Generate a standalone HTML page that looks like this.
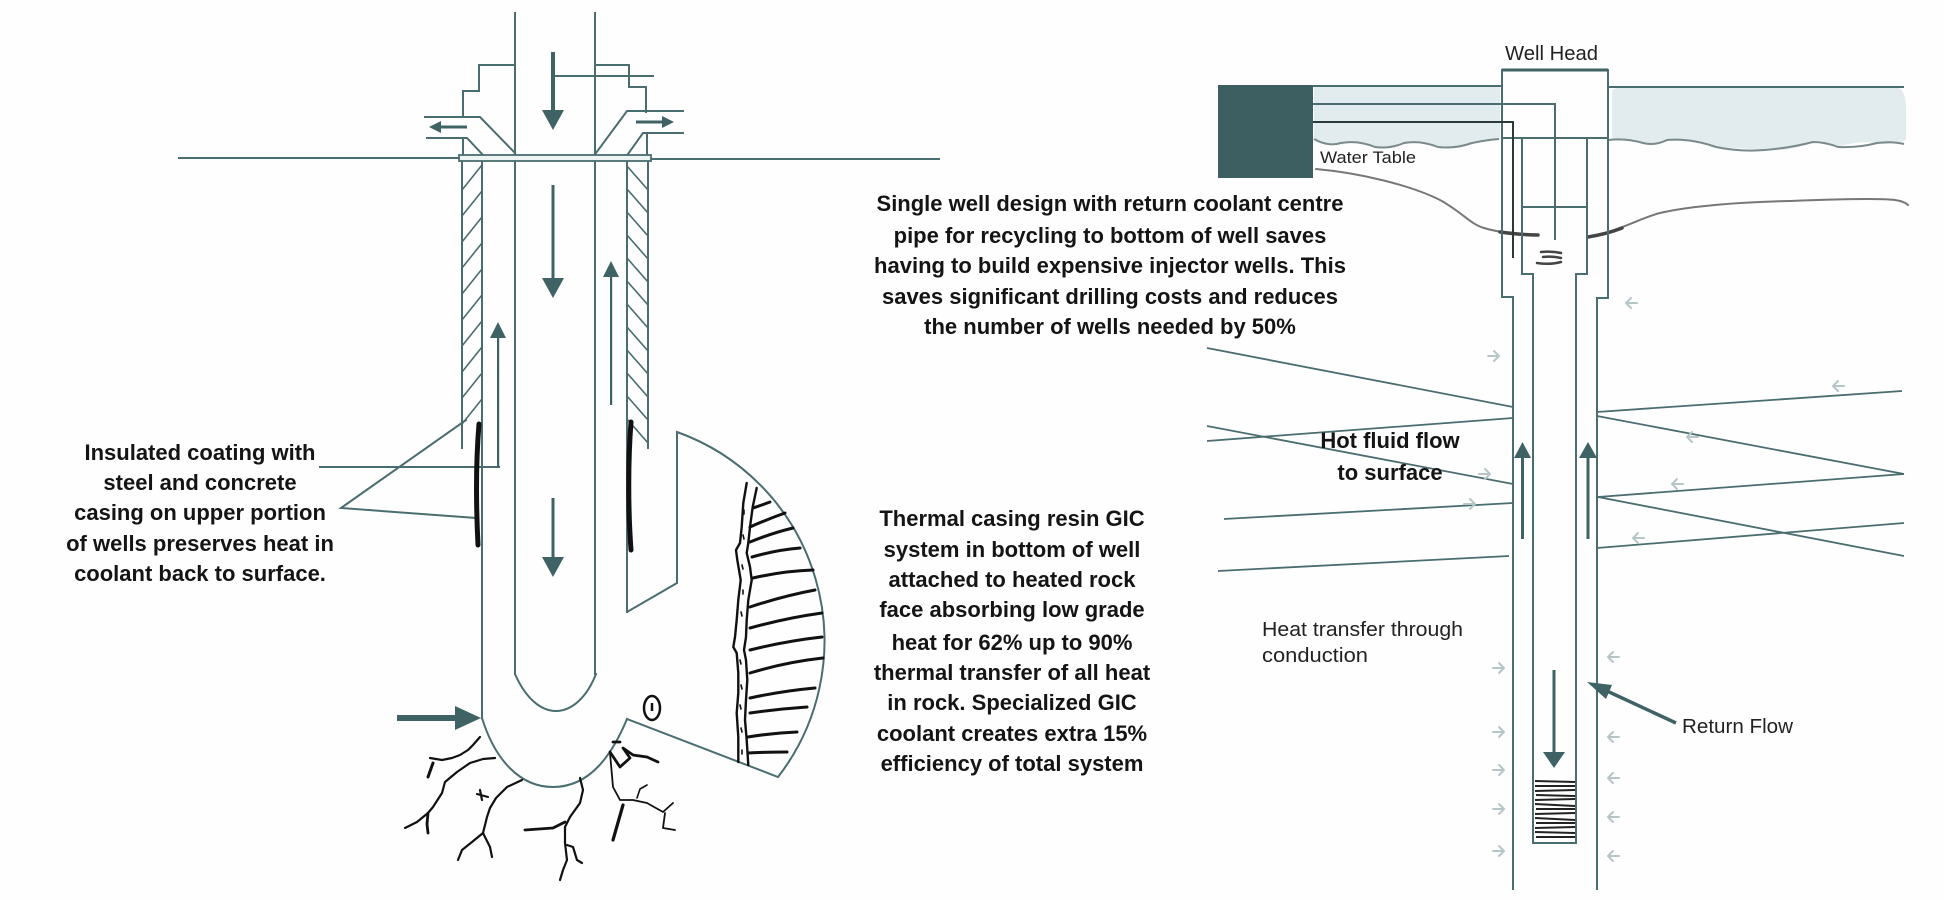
<!DOCTYPE html>
<html>
<head>
<meta charset="utf-8">
<style>
  html,body{margin:0;padding:0;background:#fefefe;}
  svg{display:block;}
  .b{font-family:"Liberation Sans",Arial,sans-serif;font-weight:bold;font-size:22px;fill:#141414;}
  .r{font-family:"Liberation Sans",Arial,sans-serif;font-weight:normal;fill:#222;}
</style>
</head>
<body>
<svg width="1944" height="900" viewBox="0 0 1944 900" xmlns="http://www.w3.org/2000/svg">
<rect width="1944" height="900" fill="#fefefe"/>

<!-- ================= LEFT DIAGRAM ================= -->
<g stroke="#4a6d70" stroke-width="2" fill="none" stroke-linecap="square">
  <line x1="179" y1="158" x2="459" y2="158"/>
  <line x1="651" y1="159" x2="939" y2="159"/>
  <line x1="515" y1="13" x2="515" y2="674"/>
  <line x1="595" y1="13" x2="595" y2="674"/>
  <path d="M515,674 C525,697 540,711 556,711 C572,711 587,697 596,674"/>
  <polyline points="515,65 479,65 479,91 463,91 463,117"/>
  <polyline points="425,117 480,117 515,153"/>
  <polyline points="427,138 467,138 482,154"/>
  <line x1="463" y1="138" x2="463" y2="155"/>
  <polyline points="595,65 629,65 629,87 646,87 646,112"/>
  <polyline points="683,111 627,111 596,153"/>
  <polyline points="683,133 643,133 628,154"/>
  <line x1="647" y1="134" x2="647" y2="155"/>
  <line x1="554" y1="76" x2="653" y2="76"/>
  <line x1="462" y1="161" x2="462" y2="448"/>
  <line x1="482" y1="161" x2="482" y2="718"/>
  <line x1="627" y1="161" x2="627" y2="612"/>
  <line x1="648" y1="161" x2="648" y2="448"/>
  <path d="M482,718 C495,760 520,787 553,787 C590,787 612,755 627,719"/>
  <path d="M627,612 L677,583 L677,432 A222,222 0 0 1 778,777 L627,719"/>
  <polyline points="320,467 499,467"/>
  <polyline points="466,420 341,508 477,518"/>
</g>
<rect x="459" y="155" width="192" height="6" fill="#eef3f3" stroke="#4a6d70" stroke-width="1.8"/>

<g stroke="#4a6d70" stroke-width="1.6">
  <line x1="462" y1="190" x2="482" y2="165"/>
  <line x1="462" y1="216" x2="482" y2="191"/>
  <line x1="462" y1="242" x2="482" y2="217"/>
  <line x1="462" y1="268" x2="482" y2="243"/>
  <line x1="462" y1="294" x2="482" y2="269"/>
  <line x1="462" y1="320" x2="482" y2="295"/>
  <line x1="462" y1="346" x2="482" y2="321"/>
  <line x1="462" y1="372" x2="482" y2="347"/>
  <line x1="462" y1="398" x2="482" y2="373"/>
  <line x1="462" y1="424" x2="482" y2="399"/>
  <line x1="627" y1="166" x2="648" y2="190"/>
  <line x1="627" y1="189" x2="648" y2="213"/>
  <line x1="627" y1="212" x2="648" y2="236"/>
  <line x1="627" y1="235" x2="648" y2="259"/>
  <line x1="627" y1="258" x2="648" y2="282"/>
  <line x1="627" y1="281" x2="648" y2="305"/>
  <line x1="627" y1="304" x2="648" y2="328"/>
  <line x1="627" y1="327" x2="648" y2="351"/>
  <line x1="627" y1="350" x2="648" y2="374"/>
  <line x1="627" y1="373" x2="648" y2="397"/>
  <line x1="627" y1="396" x2="648" y2="420"/>
  <line x1="627" y1="419" x2="648" y2="443"/>
</g>

<g fill="#3f6265" stroke="none">
  <rect x="551" y="52" width="4" height="60"/>
  <polygon points="542,110 564,110 553,130"/>
  <rect x="551.5" y="185" width="3" height="95"/>
  <polygon points="542,278 564,278 553,298"/>
  <rect x="551.5" y="498" width="3" height="61"/>
  <polygon points="542,557 564,557 553,577"/>
  <rect x="440" y="125.5" width="27" height="3"/>
  <polygon points="441,121 441,133 429,127"/>
  <rect x="636" y="120.5" width="27" height="3"/>
  <polygon points="662,116 662,128 674,122"/>
  <rect x="497" y="336" width="2.2" height="131"/>
  <polygon points="490,338 506,338 498,322"/>
  <rect x="610" y="275" width="2.2" height="130"/>
  <polygon points="603,277 619,277 611,261"/>
  <rect x="397" y="715" width="60" height="6"/>
  <polygon points="455,706 481,718 455,730"/>
</g>

<g stroke="#111" fill="none" stroke-linecap="round">
  <path d="M479,424 C476,460 476,505 478,545" stroke-width="5"/>
  <path d="M631,422 C628,460 628,510 631,550" stroke-width="5"/>
</g>

<ellipse cx="652" cy="708" rx="8" ry="12" fill="none" stroke="#111" stroke-width="2.5"/>
<line x1="652" y1="703" x2="652" y2="711" stroke="#111" stroke-width="2.5"/>

<g stroke="#111" fill="none" stroke-linecap="round">
  <polyline stroke-width="2.4" points="746.7,483 743.3,503 741.7,527 740,543 736,550 737.3,560 740.7,580 738.3,600 736.7,620 735,637 733.3,647 736.7,653 738.3,673 738.3,693 736.7,713 738.3,737 738.3,762"/>
  <polyline stroke-width="2.4" points="756.7,488 752.7,507 750,527 748.3,543 746.7,553 750,567 751.7,580 748.3,600 746.7,620 746,637 744,650 746,660 747.3,680 746,700 745,720 746.7,740 748.3,765"/>
  <g stroke-width="3">
    <path d="M753,508 Q762,505 770,502"/>
    <path d="M750,527 Q768,519 785,513"/>
    <path d="M750,542 Q772,533 793,528"/>
    <path d="M752,557 Q776,550 800,548"/>
    <path d="M753,578 Q783,571 813,570"/>
    <path d="M750,607 Q783,596 815,590"/>
    <path d="M750,628 Q786,618 822,613"/>
    <path d="M750,650 Q786,641 822,637"/>
    <path d="M750,673 Q786,662 823,658"/>
    <path d="M750,698 Q782,691 815,688"/>
    <path d="M750,713 Q778,709 807,707"/>
    <path d="M748,737 Q772,733 797,732"/>
    <path d="M748,753 Q768,752 787,752"/>
  </g>
  <g stroke-width="1.6">
    <line x1="744" y1="510" x2="744" y2="514"/>
    <line x1="743" y1="535" x2="744" y2="539"/>
    <line x1="742" y1="565" x2="743" y2="569"/>
    <line x1="743" y1="590" x2="743" y2="594"/>
    <line x1="741" y1="612" x2="742" y2="616"/>
    <line x1="740" y1="660" x2="741" y2="664"/>
    <line x1="741" y1="685" x2="742" y2="689"/>
    <line x1="740" y1="705" x2="741" y2="709"/>
    <line x1="741" y1="728" x2="742" y2="732"/>
    <line x1="742" y1="750" x2="742" y2="754"/>
  </g>
</g>

<g stroke="#111" fill="none" stroke-linecap="round" stroke-linejoin="round" stroke-width="2.2">
  <path d="M430,758 L442,760 L452,758 L460,755 L468,750 L473,745 L480,737"/>
  <path d="M428,777 L433,763" stroke-width="3"/>
  <path d="M495,758 L483,759 L470,763 L457,772 L445,782 L442,793 L433,807 L428,813 L417,822 L405,828"/>
  <path d="M428,813 L427,824 L428,833" stroke-width="2.8"/>
  <path d="M522,780 L507,787 L496,798 L490,808 L487,817 L483,833 L472,842 L462,850 L458,860"/>
  <path d="M483,833 L490,847 L492,857"/>
  <path d="M477,794 L488,797 M480,790 L482,800"/>
  <path d="M580,778 L583,790 L580,803 L570,817 L565,827 L565,843 L567,860 L563,870 L560,880"/>
  <path d="M565,822 L553,828 L525,830" stroke-width="2.8"/>
  <path d="M567,845 L573,847 L577,860 L582,863"/>
  <path d="M613,742 L620,742 M610,752 L620,767 L630,758 L623,748 L633,755 L647,757 L658,762" stroke-width="2.8"/>
  <path d="M610,753 L613,787 L620,800 L633,800 L647,803 L663,812 L673,803 M665,813 L663,828 L675,830" stroke-width="1.8"/>
  <path d="M637,798 L640,789 L647,785" stroke-width="1.6"/>
  <path d="M623,805 L613,840" stroke-width="3.2"/>
</g>

<g class="b" text-anchor="middle">
  <text x="200" y="460">Insulated coating with</text>
  <text x="200" y="490">steel and concrete</text>
  <text x="200" y="520">casing on upper portion</text>
  <text x="200" y="551">of wells preserves heat in</text>
  <text x="200" y="581">coolant back to surface.</text>
</g>

<g class="b" text-anchor="middle">
  <text x="1012" y="526">Thermal casing resin GIC</text>
  <text x="1012" y="557">system in bottom of well</text>
  <text x="1012" y="587">attached to heated rock</text>
  <text x="1012" y="617">face absorbing low grade</text>
  <text x="1012" y="650">heat for 62% up to 90%</text>
  <text x="1012" y="680">thermal transfer of all heat</text>
  <text x="1012" y="710">in rock. Specialized GIC</text>
  <text x="1012" y="741">coolant creates extra 15%</text>
  <text x="1012" y="771">efficiency of total system</text>
</g>

<!-- ================= RIGHT DIAGRAM ================= -->
<path d="M1314,87 L1500,87 L1500,139 Q1486,141 1472,143 Q1455,149 1438,147 Q1420,140 1404,143 Q1390,149 1375,147 Q1358,140 1341,143 Q1328,146 1314,138 Z" fill="#e2ebed"/>
<path d="M1612,92 Q1612,88 1620,88 L1898,88 Q1906,90 1906,110 L1906,140 Q1890,146 1877,143 Q1858,140 1838,147 Q1825,143 1813,142 Q1790,152 1765,150 Q1740,148 1716,147 Q1690,138 1667,140 Q1655,146 1643,143 Q1625,138 1612,140 Z" fill="#e2ebed"/>

<g stroke="#7a8a8c" stroke-width="2" fill="none">
  <path d="M1314,139 Q1328,147 1341,143 Q1358,140 1375,147 Q1390,149 1404,143 Q1420,140 1438,147 Q1455,149 1472,143 Q1486,140 1499,139"/>
  <path d="M1609,140 Q1625,138 1643,143 Q1655,146 1667,140 Q1690,138 1716,147 Q1740,152 1765,150 Q1790,148 1813,142 Q1825,142 1838,147 Q1858,148 1877,143 Q1892,141 1904,144"/>
</g>

<g stroke="#777" fill="none" stroke-linecap="round">
  <path d="M1316,169 C1360,173 1410,185 1440,200 C1462,212 1470,224 1484,228 C1500,233 1520,234 1538,235" stroke-width="2"/>
  <path d="M1500,232 C1515,234 1528,235 1538,235" stroke="#444" stroke-width="3.5"/>
  <path d="M1588,237 C1620,231 1640,218 1660,213 C1690,206 1740,202 1790,201 C1840,199 1880,198 1895,200 C1902,201 1906,203 1908,205" stroke-width="2"/>
  <path d="M1588,237 C1600,235 1612,232 1622,228" stroke="#444" stroke-width="3.5"/>
</g>

<g stroke="#4a6d70" stroke-width="2" fill="none">
  <line x1="1313" y1="86" x2="1502" y2="86"/>
  <line x1="1609" y1="87" x2="1904" y2="87"/>
  <rect x="1502" y="70" width="106" height="68"/>
  <polyline points="1313,104 1555,104 1555,240"/>
  <polyline points="1502,138 1502,297 1513,297 1513,890"/>
  <polyline points="1608,138 1608,298 1597,298 1597,890"/>
  <polyline points="1522,138 1522,274 1533,274 1533,843 1576,843 1576,274 1587,274 1587,138"/>
  <line x1="1523" y1="207" x2="1587" y2="207"/>
  <g stroke-width="1.8">
    <line x1="1207" y1="348" x2="1513" y2="407"/>
    <line x1="1207" y1="441" x2="1513" y2="418"/>
    <line x1="1207" y1="426" x2="1513" y2="484"/>
    <line x1="1224" y1="519" x2="1513" y2="503"/>
    <line x1="1218" y1="571" x2="1509" y2="556"/>
    <line x1="1597" y1="412" x2="1902" y2="391"/>
    <line x1="1597" y1="416" x2="1904" y2="474"/>
    <line x1="1904" y1="474" x2="1598" y2="497"/>
    <line x1="1598" y1="497" x2="1904" y2="556"/>
    <line x1="1597" y1="548" x2="1904" y2="523"/>
  </g>
</g>
<line x1="1502" y1="70" x2="1608" y2="70" stroke="#3f6265" stroke-width="3"/>
<polyline points="1313,122 1513,122 1513,258" stroke="#2a3a3b" stroke-width="2" fill="none"/>

<rect x="1218" y="85" width="95" height="93" fill="#3e5f62"/>

<g stroke="#444" stroke-width="2.5" fill="none" stroke-linecap="round">
  <path d="M1541,252 Q1552,251 1561,253"/>
  <path d="M1543,257 Q1553,256 1561,258"/>
  <path d="M1537,263 Q1550,265 1561,262"/>
</g>

<g stroke="#222" stroke-width="2">
  <line x1="1535" y1="781" x2="1575" y2="782"/>
  <line x1="1535" y1="786" x2="1575" y2="786"/>
  <line x1="1535" y1="791" x2="1575" y2="790"/>
  <line x1="1536" y1="795" x2="1575" y2="796"/>
  <line x1="1535" y1="800" x2="1575" y2="799"/>
  <line x1="1535" y1="804" x2="1575" y2="806"/>
  <line x1="1536" y1="809" x2="1575" y2="809"/>
  <line x1="1535" y1="814" x2="1575" y2="813"/>
  <line x1="1535" y1="818" x2="1575" y2="820"/>
  <line x1="1536" y1="823" x2="1575" y2="823"/>
  <line x1="1535" y1="828" x2="1575" y2="827"/>
  <line x1="1535" y1="832" x2="1575" y2="833"/>
  <line x1="1536" y1="837" x2="1575" y2="837"/>
</g>

<g fill="#3f6265">
  <rect x="1521" y="456" width="3" height="83"/>
  <polygon points="1514,458 1531,458 1522.5,442"/>
  <rect x="1586.5" y="456" width="3" height="83"/>
  <polygon points="1579,458 1597,458 1588,442"/>
  <rect x="1552.5" y="670" width="3" height="84"/>
  <polygon points="1543,752 1565,752 1554,768"/>
  <polygon points="1587,682 1612,685 1606,699"/>
</g>
<line x1="1676" y1="723" x2="1607" y2="691" stroke="#3f6265" stroke-width="3.5"/>

<g stroke="#b6c6c7" stroke-width="2" fill="none" stroke-linecap="round" stroke-linejoin="round">
  <path d="M1488,356 L1499,356 M1494,351 L1499,356 L1494,361"/>
  <path d="M1479,474 L1490,474 M1485,469 L1490,474 L1485,479"/>
  <path d="M1464,504 L1475,504 M1470,499 L1475,504 L1470,509"/>
  <path d="M1493,668 L1504,668 M1499,663 L1504,668 L1499,673"/>
  <path d="M1493,732 L1504,732 M1499,727 L1504,732 L1499,737"/>
  <path d="M1493,770 L1504,770 M1499,765 L1504,770 L1499,775"/>
  <path d="M1493,809 L1504,809 M1499,804 L1504,809 L1499,814"/>
  <path d="M1493,851 L1504,851 M1499,846 L1504,851 L1499,856"/>
  <path d="M1637,303 L1626,303 M1631,298 L1626,303 L1631,308"/>
  <path d="M1844,386 L1833,386 M1838,381 L1833,386 L1838,391"/>
  <path d="M1698,437 L1687,437 M1692,432 L1687,437 L1692,442"/>
  <path d="M1683,484 L1672,484 M1677,479 L1672,484 L1677,489"/>
  <path d="M1644,538 L1633,538 M1638,533 L1633,538 L1638,543"/>
  <path d="M1619,657 L1608,657 M1613,652 L1608,657 L1613,662"/>
  <path d="M1619,737 L1608,737 M1613,732 L1608,737 L1613,742"/>
  <path d="M1619,778 L1608,778 M1613,773 L1608,778 L1613,783"/>
  <path d="M1619,817 L1608,817 M1613,812 L1608,817 L1613,822"/>
  <path d="M1619,856 L1608,856 M1613,851 L1608,856 L1613,861"/>
</g>

<text class="r" x="1505" y="60" font-size="20" textLength="93" lengthAdjust="spacingAndGlyphs">Well Head</text>
<text class="r" x="1320" y="163" font-size="17" textLength="96" lengthAdjust="spacingAndGlyphs">Water Table</text>
<text class="r" x="1262" y="636" font-size="20" textLength="201" lengthAdjust="spacingAndGlyphs">Heat transfer through</text>
<text class="r" x="1262" y="662" font-size="20" textLength="106" lengthAdjust="spacingAndGlyphs">conduction</text>
<text class="r" x="1682" y="733" font-size="20" textLength="111" lengthAdjust="spacingAndGlyphs">Return Flow</text>

<g class="b" text-anchor="middle">
  <text x="1110" y="211">Single well design with return coolant centre</text>
  <text x="1110" y="243">pipe for recycling to bottom of well saves</text>
  <text x="1110" y="273">having to build expensive injector wells. This</text>
  <text x="1110" y="304">saves significant drilling costs and reduces</text>
  <text x="1110" y="334">the number of wells needed by 50%</text>
  <text x="1390" y="448">Hot fluid flow</text>
  <text x="1390" y="480">to surface</text>
</g>
</svg>
</body>
</html>
